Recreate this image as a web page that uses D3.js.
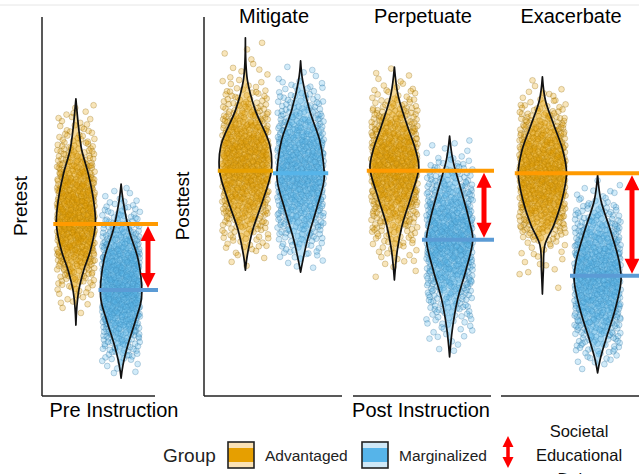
<!DOCTYPE html>
<html>
<head>
<meta charset="utf-8">
<script src="https://cdn.jsdelivr.net/npm/d3@7/dist/d3.min.js"></script>
<style>
  body { margin: 0; background: #fff; }
  svg { display: block; font-family: "Liberation Sans", Arial, sans-serif; }
</style>
</head>
<body>
<svg id="chart" width="639" height="474"></svg>
<script>
// Pre / post scores of two groups, violins + jittered points

const panels = ['Pre Instruction', 'Mitigate', 'Perpetuate', 'Exacerbate'];
const groups = ['Advantaged', 'Marginalized'];

const advMeans = [45.4, 59.4, 59.4, 58.8];
const margMeans = [28.0, 58.8, 41.2, 31.7];

// violin outlines: score levels (top -> bottom) and density
const advLevels = [
    [78.4, 70.2, 64.9, 58.8, 51.7, 45.4, 38.5, 33.2, 28.0, 23.5, 18.7],
    [94.5, 83.4, 75.5, 66.2, 59.4, 51.7, 43.8, 37.2, 33.2],
    [86.8, 79.4, 71.5, 64.9, 60.2, 53.0, 45.1, 38.5, 30.6],
    [84.2, 78.1, 71.5, 64.9, 58.8, 51.7, 45.1, 39.8, 33.2, 26.9]
];
const advDensity = [
    [0, 3.7, 7.3, 15.3, 22, 24.4, 18.3, 9.8, 3.7, 1.2, 0],
    [0, 2, 10, 25, 26.5, 18, 7.5, 2, 0],
    [0, 3.7, 13, 21.7, 25, 17.5, 8, 3, 0],
    [0, 3, 11.7, 20.8, 24.7, 20, 11.7, 2.5, 1, 0]
];
const margLevels = [
    [55.9, 51.7, 43.8, 35.9, 26.1, 20.1, 13.5, 8.2, 4.7],
    [88.4, 83.4, 75.5, 67.5, 62.3, 57.0, 49.1, 41.2, 35.4, 32.7],
    [68.6, 62.3, 54.4, 46.4, 41.2, 33.2, 25.3, 17.4, 10.3],
    [58.3, 51.7, 43.8, 35.9, 30.6, 22.7, 14.8, 9.5, 6.1]
];
const margDensity = [
    [0, 2.4, 9.8, 21.4, 25.6, 18.3, 8.5, 2.4, 0],
    [0, 2, 9, 19.5, 23, 24, 16, 7, 2, 0],
    [0, 3.3, 11.7, 20, 23.7, 16.7, 8, 2.7, 0],
    [0, 3.3, 13, 21.7, 24, 17.8, 8.3, 2.5, 0]
];
const pointsPerGroup = 650;

const W = 639, H = 474;
const svg = d3.select('#chart');

const FILL = { Advantaged: '#E69F00', Marginalized: '#56B4E9' };
const EDGE = { Advantaged: '#8a6200', Marginalized: '#2a6a98' };
const panelX = [[42, 155], [204, 342], [353, 491], [501, 639]];
const yLabels = ['Pretest', 'Posttest', null, null];
const hasArrow = [true, false, true, true];
const lineColors = [
    ['#FF9A00', '#5B9BD5'],
    ['#E69F00', '#56B4E9'],
    ['#FF9A00', '#5B9BD5'],
    ['#FF9A00', '#5B9BD5']
];

const y = d3.scaleLinear().domain([0, 100]).range([396, 17]);

// faint rule at the very top
svg.append('line').attr('x1', 0).attr('x2', W).attr('y1', 5).attr('y2', 5)
    .attr('stroke', '#e6e6e6').attr('stroke-width', 1);

function halton(i, b) {
    let f = 1, r = 0;
    while (i > 0) { f /= b; r += f * (i % b); i = Math.floor(i / b); }
    return r;
}

// quantile function of a piecewise density profile
function sampler(levels, dens) {
    const cells = [];
    for (let k = 0; k < levels.length - 1; k++) {
        const n = 10;
        for (let j = 0; j < n; j++) {
            const t0 = j / n, t1 = (j + 1) / n, tm = (j + 0.5) / n;
            const s0 = levels[k] + (levels[k + 1] - levels[k]) * t0;
            const s1 = levels[k] + (levels[k + 1] - levels[k]) * t1;
            const d = dens[k] + (dens[k + 1] - dens[k]) * tm;
            cells.push({ s0, s1, w: d * Math.abs(s1 - s0) });
        }
    }
    const total = d3.sum(cells, c => c.w);
    let acc = 0;
    cells.forEach(c => { c.c0 = acc / total; acc += c.w; c.c1 = acc / total; });
    return q => {
        const c = cells.find(c => q <= c.c1) || cells[cells.length - 1];
        const f = (q - c.c0) / ((c.c1 - c.c0) || 1);
        return c.s0 + (c.s1 - c.s0) * f;
    };
}

function arrowPath(x, ya, yb, headW, headL, shaftW) {
    const t = Math.min(ya, yb), b = Math.max(ya, yb);
    const hw = headW / 2, sw = shaftW / 2;
    return `M${x},${t} L${x + hw},${t + headL} L${x + sw},${t + headL} L${x + sw},${b - headL}` +
        ` L${x + hw},${b - headL} L${x},${b} L${x - hw},${b - headL} L${x - sw},${b - headL}` +
        ` L${x - sw},${t + headL} L${x - hw},${t + headL} Z`;
}

panels.forEach((name, p) => {
    const [x0, x1] = panelX[p];
    const g = svg.append('g').attr('class', 'panel');
    const x = d3.scalePoint().domain(groups).range([x0, x1]).padding(0.75);
    const step = x.step();
    const w = d3.scaleLinear().domain([0, 26]).range([0, step * 0.46]);
    const jitter = step * 0.42;

    const series = [
        { grp: 'Advantaged', levels: advLevels[p], dens: advDensity[p], mean: advMeans[p] },
        { grp: 'Marginalized', levels: margLevels[p], dens: margDensity[p], mean: margMeans[p] }
    ];

    // jittered points
    series.forEach((s, si) => {
        const q = sampler(s.levels, s.dens);
        const pts = d3.range(pointsPerGroup).map(i => {
            const k = i + 1 + p * 2000 + si * 1000;
            return { s: q(halton(k, 2)), j: halton(k, 3) * 2 - 1 };
        });
        g.append('g').selectAll('circle').data(pts).enter().append('circle')
            .attr('cx', d => x(s.grp) + d.j * jitter)
            .attr('cy', d => y(d.s))
            .attr('r', 2.9)
            .attr('fill', FILL[s.grp])
            .attr('fill-opacity', 0.27)
            .attr('stroke', EDGE[s.grp])
            .attr('stroke-opacity', 0.4)
            .attr('stroke-width', 0.7);
    });

    // violins
    series.forEach(s => {
        const prof = s.levels.map((lv, i) => ({ s: lv, d: s.dens[i] }));
        const area = d3.area()
            .y(d => y(d.s))
            .x0(d => x(s.grp) - w(d.d))
            .x1(d => x(s.grp) + w(d.d))
            .curve(d3.curveCatmullRom.alpha(0.5));
        g.append('path').datum(prof)
            .attr('d', area)
            .attr('fill', FILL[s.grp])
            .attr('fill-opacity', 0.4)
            .attr('stroke', '#111')
            .attr('stroke-width', 1.7)
            .attr('stroke-linejoin', 'round');
    });

    // mean lines
    series.forEach((s, si) => {
        const left = x(s.grp) - step * 0.5;
        const right = hasArrow[p] ? Math.min(W, x1 + 3) : x(s.grp) + step * 0.5;
        g.append('line')
            .attr('x1', left).attr('x2', right)
            .attr('y1', y(s.mean)).attr('y2', y(s.mean))
            .attr('stroke', lineColors[p][si])
            .attr('stroke-width', 4);
    });

    if (hasArrow[p]) {
        g.append('path')
            .attr('d', arrowPath(x1 - 7, y(advMeans[p]) + 2, y(margMeans[p]) - 2, 15, 15, 5))
            .attr('fill', '#FF0000');
    }

    // axes
    g.append('line').attr('x1', x0).attr('x2', x1).attr('y1', 396).attr('y2', 396)
        .attr('stroke', '#222').attr('stroke-width', 1.5);
    if (yLabels[p]) {
        g.append('line').attr('x1', x0).attr('x2', x0).attr('y1', 17).attr('y2', 396)
            .attr('stroke', '#222').attr('stroke-width', 1.5);
        g.append('text')
            .attr('transform', `translate(${x0 - 15},${206}) rotate(-90)`)
            .attr('text-anchor', 'middle')
            .style('font-size', '19px')
            .text(yLabels[p]);
    }
    if (p > 0) {
        g.append('text')
            .attr('x', (x0 + x1) / 2 + 1).attr('y', 23)
            .attr('text-anchor', 'middle')
            .style('font-size', '20px')
            .text(name);
    }
});

// bottom stage labels
svg.append('text').attr('x', 114).attr('y', 417).attr('text-anchor', 'middle')
    .style('font-size', '20px').text('Pre Instruction');
svg.append('text').attr('x', 421).attr('y', 417).attr('text-anchor', 'middle')
    .style('font-size', '20px').text('Post Instruction');

// legend
const legend = svg.append('g').attr('class', 'legend');
legend.append('text').attr('x', 163).attr('y', 462)
    .style('font-size', '19px').attr('fill', '#222').text('Group');

const keyX = [228, 362];
const labX = [265, 399];
const LIGHT = { Advantaged: '#fbe2b5', Marginalized: '#cfe8f7' };
groups.forEach((grp, i) => {
    const k = legend.append('g').attr('transform', `translate(${keyX[i]},442)`);
    k.append('rect').attr('width', 26).attr('height', 26).attr('fill', LIGHT[grp]);
    k.append('rect').attr('y', 6).attr('width', 26).attr('height', 14).attr('fill', FILL[grp]);
    k.append('rect').attr('width', 26).attr('height', 26).attr('fill', 'none')
        .attr('stroke', '#222').attr('stroke-width', 1.6);
    legend.append('text').attr('x', labX[i]).attr('y', 461)
        .style('font-size', '15.5px').attr('fill', '#222').text(grp);
});

// the reference cuts the third line of this label at the bottom edge as well
legend.append('path').attr('d', arrowPath(508, 436, 468, 11, 11, 3.5)).attr('fill', '#FF0000');
['Societal', 'Educational', 'Debts'].forEach((t, i) => {
    legend.append('text').attr('x', 579).attr('y', 437 + i * 24)
        .attr('text-anchor', 'middle')
        .style('font-size', '16.5px').attr('fill', '#111').text(t);
});
</script>
</body>
</html>
